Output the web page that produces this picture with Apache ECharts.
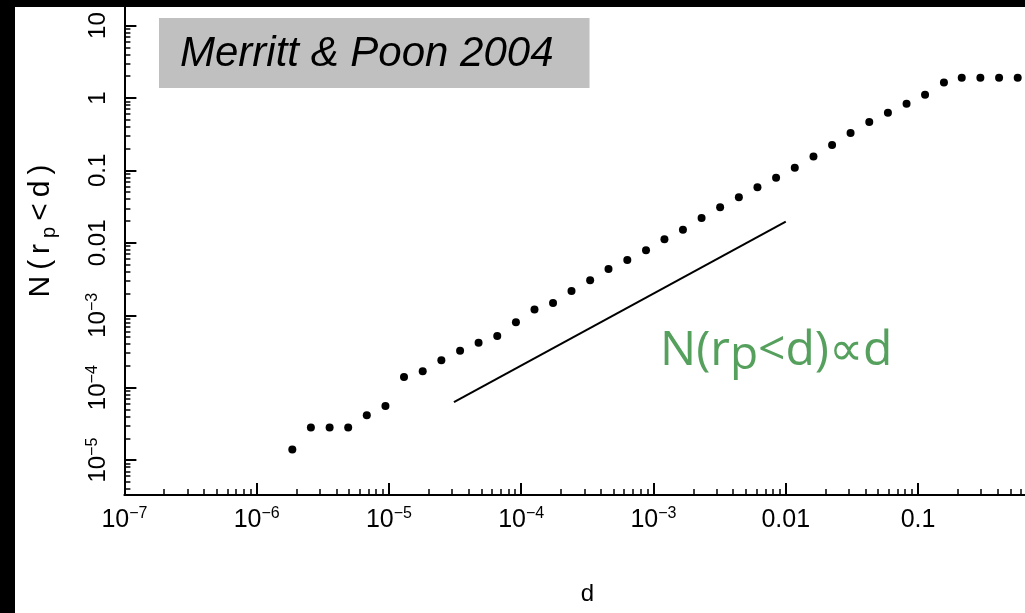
<!DOCTYPE html>
<html>
<head>
<meta charset="utf-8">
<script src="https://cdn.jsdelivr.net/npm/echarts@6/dist/echarts.min.js"></script>
<style>html,body{margin:0;padding:0;background:#fff}#c{width:1025px;height:613px}</style>
</head>
<body>
<div id="c"></div>
<script>
// ---- data ----
const dValues = [1.86e-6, 2.57e-6, 3.56e-6, 4.92e-6, 6.80e-6, 9.41e-6, 1.30e-5, 1.80e-5, 2.49e-5, 3.45e-5,
  4.76e-5, 6.59e-5, 9.12e-5, 1.26e-4, 1.74e-4, 2.40e-4, 3.32e-4, 4.57e-4, 6.34e-4, 8.78e-4,
  1.21e-3, 1.67e-3, 2.31e-3, 3.19e-3, 4.42e-3, 6.11e-3, 8.45e-3, 1.17e-2, 1.62e-2, 2.24e-2,
  3.09e-2, 4.28e-2, 5.92e-2, 8.19e-2, 0.113, 0.157, 0.214, 0.296, 0.410, 0.567];
const nValues = [1.40e-5, 2.81e-5, 2.81e-5, 2.81e-5, 4.16e-5, 5.59e-5, 1.41e-4, 1.69e-4, 2.39e-4, 3.24e-4,
  4.18e-4, 5.18e-4, 8.00e-4, 1.20e-3, 1.48e-3, 2.16e-3, 3.04e-3, 4.35e-3, 5.79e-3, 7.88e-3,
  1.12e-2, 1.52e-2, 2.20e-2, 3.09e-2, 4.25e-2, 5.84e-2, 7.92e-2, 0.109, 0.155, 0.224,
  0.328, 0.465, 0.625, 0.832, 1.11, 1.63, 1.90, 1.90, 1.90, 1.90];
const lineD = [3.1e-5, 0.01];
const lineN = [6.3e-5, 0.0196];

const xTickValues = [1e-7, 1e-6, 1e-5, 1e-4, 1e-3, 0.01, 0.1, 1];
const xTickLabels = ['10^-7', '10^-6', '10^-5', '10^-4', '10^-3', '0.01', '0.1', '1'];
const yTickValues = [1e-5, 1e-4, 1e-3, 0.01, 0.1, 1, 10, 100];
const yTickLabels = ['10^-5', '10^-4', '10^-3', '0.01', '0.1', '1', '10', '100'];
const minorMultipliers = [2, 3, 4, 5, 6, 7, 8, 9];

const xMin = 1e-7, xMax = 1;
const yMin = 3.3e-6, yMax = 100;

function minorTicks(majors, lo, hi) {
  const out = [];
  const all = [majors[0] / 10].concat(majors);
  all.forEach(m => minorMultipliers.forEach(k => { const v = m * k; if (v > lo && v < hi) out.push(v); }));
  return out;
}
const xMinor = minorTicks(xTickValues, xMin, xMax);
const yMinor = minorTicks(yTickValues, yMin, yMax);

function labelFor(values, labels, v) {
  let best = 0, bd = Infinity;
  values.forEach((t, i) => { const d = Math.abs(Math.log10(t) - Math.log10(v)); if (d < bd) { bd = d; best = i; } });
  const s = labels[best];
  if (s.indexOf('^') >= 0) {
    const p = s.split('^');
    return '{b|' + p[0] + '}{sup|' + p[1].replace('-', '\u2212') + '}';
  }
  return '{b|' + s + '}';
}

const FONT = 'Liberation Sans, Arial, sans-serif';
const GREEN_FONT = 'Open Sans, Lato, sans-serif';
const richX = {
  b: { fontSize: 25, fontFamily: FONT, color: '#000', lineHeight: 28, verticalAlign: 'middle' },
  sup: { fontSize: 16, fontFamily: FONT, color: '#000', lineHeight: 8, verticalAlign: 'top' }
};
const richY = {
  b: { fontSize: 24, fontFamily: FONT, color: '#000', lineHeight: 28, verticalAlign: 'middle' },
  sup: { fontSize: 16, fontFamily: FONT, color: '#000', lineHeight: 8, verticalAlign: 'top' }
};

const chart = echarts.init(document.getElementById('c'), null, { renderer: 'canvas' });
chart.setOption({
  backgroundColor: '#ffffff',
  animation: false,
  title: {
    text: 'Merritt & Poon 2004',
    left: 159, top: 18,
    backgroundColor: '#c0c0c0',
    padding: [12, 36, 10, 21],
    textStyle: { fontSize: 42, fontStyle: 'italic', fontWeight: 'normal', fontFamily: FONT, color: '#000', lineHeight: 48 }
  },
  grid: { left: 124.4, right: -25.3, top: -46.9, bottom: 118, outerBoundsMode: 'none', containLabel: false },
  xAxis: [{
    type: 'log', logBase: 10, min: xMin, max: xMax,
    name: 'd', nameLocation: 'middle', nameGap: 87,
    nameTextStyle: { fontSize: 24, fontFamily: FONT, color: '#000' },
    axisLine: { show: true, lineStyle: { color: '#000', width: 2 } },
    axisTick: { show: true, inside: true, length: 12, customValues: xTickValues, lineStyle: { color: '#000', width: 2 } },
    axisLabel: { show: true, margin: 11, customValues: xTickValues, formatter: v => labelFor(xTickValues, xTickLabels, v), rich: richX },
    splitLine: { show: false }, minorTick: { show: false }
  }, {
    type: 'log', logBase: 10, min: xMin, max: xMax, position: 'bottom',
    axisLine: { show: false },
    axisTick: { show: true, inside: true, length: 6, customValues: xMinor, lineStyle: { color: '#000', width: 1.5 } },
    axisLabel: { show: false }, splitLine: { show: false }
  }],
  yAxis: [{
    type: 'log', logBase: 10, min: yMin, max: yMax,
    name: '{n|N}{n|(}{n|r}{s|p}{n|<}{n|d}{e|)}', nameLocation: 'middle', nameGap: 65, nameRotate: 90,
    nameTextStyle: {
      rich: {
        n: { fontSize: 30, fontFamily: FONT, color: '#000', lineHeight: 38, verticalAlign: 'middle', padding: [0, 3, 0, 3] },
        e: { fontSize: 30, fontFamily: FONT, color: '#000', lineHeight: 38, verticalAlign: 'middle', padding: [0, 17, 0, 3] },
        s: { fontSize: 20, fontFamily: FONT, color: '#000', lineHeight: 20, verticalAlign: 'bottom', padding: [0, 3, 0, 3] }
      }
    },
    axisLine: { show: true, lineStyle: { color: '#000', width: 2 } },
    axisTick: { show: true, inside: true, length: 12, customValues: yTickValues, lineStyle: { color: '#000', width: 2 } },
    axisLabel: { show: true, rotate: 90, margin: 12, customValues: yTickValues, formatter: v => labelFor(yTickValues, yTickLabels, v), rich: richY },
    splitLine: { show: false }, minorTick: { show: false }
  }, {
    type: 'log', logBase: 10, min: yMin, max: yMax, position: 'left',
    axisLine: { show: false },
    axisTick: { show: true, inside: true, length: 6, customValues: yMinor, lineStyle: { color: '#000', width: 1.5 } },
    axisLabel: { show: false }, splitLine: { show: false }
  }],
  graphic: [
    { type: 'rect', left: 0, top: 0, z: 100, shape: { width: 15, height: 613 }, style: { fill: '#000' } },
    { type: 'rect', left: 0, top: 0, z: 100, shape: { width: 1025, height: 7 }, style: { fill: '#000' } },
    {
      type: 'text', left: 660, top: 327, z: 50,
      style: {
        text: '{a|N(r}{s|p}{a|<d)\u221Dd}',
        rich: {
          a: { fontSize: 48, fontFamily: GREEN_FONT, fill: '#55a05c', lineHeight: 56, verticalAlign: 'middle' },
          s: { fontSize: 46, fontFamily: GREEN_FONT, fill: '#55a05c', lineHeight: 28, verticalAlign: 'bottom' }
        }
      }
    }
  ],
  series: [{
    type: 'scatter', xAxisIndex: 0, yAxisIndex: 0,
    symbol: 'circle', symbolSize: 8,
    itemStyle: { color: '#000', opacity: 1 },
    data: dValues.map((d, i) => [d, nValues[i]])
  }, {
    type: 'line', xAxisIndex: 0, yAxisIndex: 0,
    symbol: 'none', lineStyle: { color: '#000', width: 2 },
    data: lineD.map((d, i) => [d, lineN[i]])
  }]
});
</script>
</body>
</html>
